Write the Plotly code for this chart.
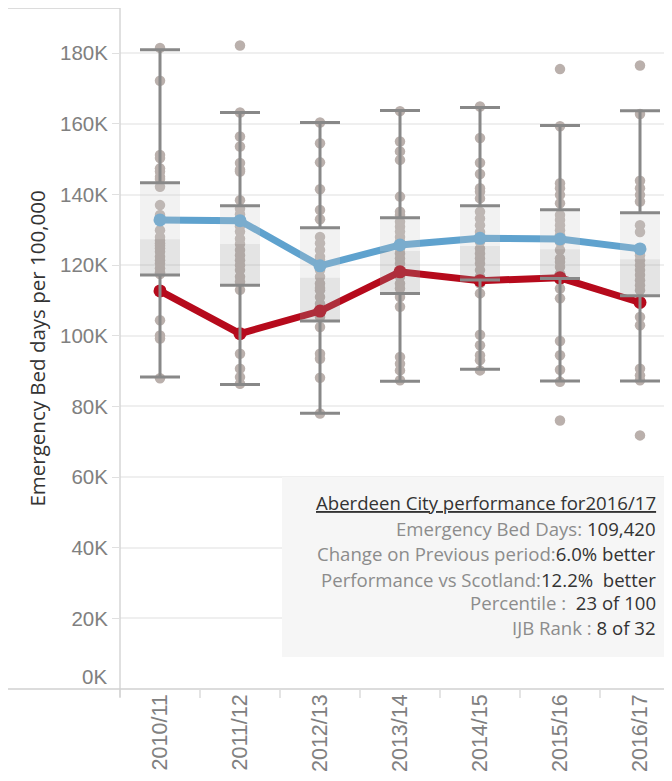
import plotly.graph_objects as go

years = ["2010/11", "2011/12", "2012/13", "2013/14", "2014/15", "2015/16", "2016/17"]

scotland = [132800, 132600, 119800, 125700, 127600, 127400, 124600]
aberdeen = [112700, 100600, 107000, 118100, 115600, 116400, 109420]

upper_whisker = [181000, 163200, 160400, 163800, 164600, 159500, 163700]
q3 = [143300, 136800, 130600, 133400, 136800, 135700, 134800]
median = [127300, 126000, 116400, 124000, 125400, 124500, 121700]
q1 = [117200, 114300, 104200, 112000, 115800, 116200, 111300]
lower_whisker = [88300, 86200, 78100, 87100, 90500, 87200, 87200]

# IJB values (thousands) per year
ijb_2010 = [181.5, 172.2, 151.2, 150.3, 147.4, 146.5, 145.0, 144.4, 142.2, 137.0, 134.2, 132.8,
            129.9, 128.0, 127.0, 126.2, 125.5, 124.8, 123.8, 122.4, 121.4, 120.5, 119.1, 118.0,
            117.5, 112.7, 104.4, 100.1, 99.2, 88.0]
ijb_2011 = [182.2, 163.2, 156.4, 153.6, 148.9, 147.0, 146.5, 138.4, 136.0, 134.4, 132.6, 131.0,
            129.5, 127.5, 126.0, 124.3, 122.8, 121.4, 120.0, 118.6, 116.7, 115.3, 113.0, 100.6,
            94.9, 90.7, 88.3, 86.4]
ijb_2012 = [160.4, 154.5, 149.1, 141.5, 135.6, 133.0, 128.0, 126.2, 124.3, 122.4, 121.5, 120.5,
            118.6, 116.7, 114.8, 113.5, 112.9, 111.0, 109.1, 107.0, 105.3, 102.5, 94.9, 93.5,
            88.1, 78.0]
ijb_2013 = [163.6, 155.0, 152.2, 149.8, 139.4, 135.1, 134.2, 132.3, 130.9, 129.5, 128.0, 126.6,
            124.7, 123.3, 121.9, 120.5, 118.1, 116.7, 114.8, 113.4, 111.0, 108.2, 94.0, 92.1,
            90.2, 87.4]
ijb_2014 = [164.9, 156.0, 149.0, 145.8, 141.8, 140.8, 138.9, 135.1, 133.2, 131.3, 129.4, 128.0,
            126.6, 124.7, 123.3, 121.9, 120.5, 118.6, 116.7, 115.6, 114.8, 112.0, 100.3, 97.3,
            94.5, 93.1, 90.2]
ijb_2015 = [175.5, 159.3, 143.2, 141.8, 139.9, 137.5, 134.2, 132.8, 131.3, 129.9, 128.5, 126.6,
            124.3, 121.9, 120.9, 119.5, 117.6, 116.4, 115.7, 113.4, 110.6, 98.5, 94.5, 90.4,
            87.0, 76.0]
ijb_2016 = [176.5, 162.8, 143.9, 141.8, 139.9, 138.0, 131.3, 129.4, 122.8, 121.4, 120.0, 118.6,
            117.2, 115.7, 114.3, 112.9, 109.42, 105.3, 103.0, 90.7, 88.8, 87.4, 71.8]
ijb_values = [ijb_2010, ijb_2011, ijb_2012, ijb_2013, ijb_2014, ijb_2015, ijb_2016]

y_ticks = [20000, 40000, 60000, 80000, 100000, 120000, 140000, 160000, 180000]
y_ticktext = ["20K", "40K", "60K", "80K", "100K", "120K", "140K", "160K", "180K"]

panel_title = "Aberdeen City performance for2016/17"
panel_lines = [
    ("Emergency Bed Days: ", "109,420"),
    ("Change on Previous period:", "6.0% better"),
    ("Performance vs Scotland:", "12.2%  better"),
    ("Percentile : ", " 23 of 100"),
    ("IJB Rank : ", "8 of 32"),
]

idx = list(range(len(years)))

fig = go.Figure()

# IJB dots
dx, dy = [], []
for i, vals in enumerate(ijb_values):
    for v in vals:
        dx.append(i)
        dy.append(v * 1000)
fig.add_trace(go.Scatter(x=dx, y=dy, mode="markers",
                         marker=dict(size=10.5, color="#bab0ac", line=dict(width=0)),
                         hoverinfo="skip", zorder=0))

# lines
fig.add_trace(go.Scatter(x=idx, y=scotland, mode="lines+markers",
                         line=dict(color="#5fa2ce", width=7),
                         marker=dict(size=13, color="#5fa2ce"), zorder=1))
fig.add_trace(go.Scatter(x=idx, y=aberdeen, mode="lines+markers",
                         line=dict(color="#b60a1c", width=7),
                         marker=dict(size=13, color="#b60a1c"), zorder=1))

# boxes (semi-transparent, above lines)
fig.add_trace(go.Bar(x=idx, y=[m - a for m, a in zip(median, q1)], base=q1, width=0.5,
                     marker=dict(color="rgba(150,150,150,0.26)", line=dict(width=0)), zorder=2))
fig.add_trace(go.Bar(x=idx, y=[b - m for b, m in zip(q3, median)], base=median, width=0.5,
                     marker=dict(color="rgba(205,205,205,0.25)", line=dict(width=0)), zorder=2))

# whiskers
fig.add_trace(go.Scatter(x=idx, y=q3, mode="markers", marker=dict(size=1, color="rgba(0,0,0,0)"),
                         error_y=dict(type="data", array=[u - b for u, b in zip(upper_whisker, q3)],
                                      arrayminus=[0] * len(idx), color="#888888", thickness=3, width=20),
                         zorder=3))
fig.add_trace(go.Scatter(x=idx, y=q1, mode="markers", marker=dict(size=1, color="rgba(0,0,0,0)"),
                         error_y=dict(type="data", array=[0] * len(idx),
                                      arrayminus=[a - l for a, l in zip(q1, lower_whisker)],
                                      color="#888888", thickness=3, width=20),
                         zorder=3))

ytick_font = dict(family="Liberation Sans", size=20.5, color="#808080")
xtick_font = dict(family="Liberation Sans", size=21.5, color="#808080")

fig.update_layout(
    width=672, height=773,
    margin=dict(l=112, r=8, t=0, b=92),
    paper_bgcolor="white", plot_bgcolor="white",
    showlegend=False, barmode="overlay",
    xaxis=dict(range=[-0.5, 6.4], tickvals=idx, ticktext=years, tickangle=-90,
               tickfont=xtick_font, ticks="", showgrid=False, zeroline=False, showline=False,
               minor=dict(tickmode="array", tickvals=[-0.5, 0.5, 1.5, 2.5, 3.5, 4.5, 5.5],
                          ticks="outside", ticklen=8, tickcolor="#e4e4e4", tickwidth=1.5, showgrid=False)),
    yaxis=dict(range=[0, 192800], tickvals=y_ticks, ticktext=y_ticktext, tickfont=ytick_font,
               ticks="outside", ticklen=7, tickcolor="#e0e0e0", tickwidth=1,
               showgrid=True, gridcolor="#efefef", gridwidth=1.5, zeroline=False, showline=False),
)

shapes = [
    dict(type="line", xref="paper", yref="paper", x0=-0.2029, x1=0, y0=1, y1=1,
         line=dict(color="#d0d0d0", width=1.5)),
    dict(type="line", xref="paper", yref="paper", x0=0, x1=0, y0=1, y1=-0.0117,
         line=dict(color="#d6d6d6", width=1.5)),
    dict(type="line", xref="paper", yref="paper", x0=-0.2029, x1=1, y0=0, y1=0,
         line=dict(color="#d0d0d0", width=1.5)),
    dict(type="rect", xref="paper", yref="paper", x0=0.2935, x1=1, y0=0.047, y1=0.3113,
         fillcolor="#f6f6f6", line=dict(width=0), layer="above"),
]
fig.update_layout(shapes=shapes)

annotations = [
    dict(text="Emergency Bed days per 100,000", xref="paper", yref="paper", x=-0.152, y=0.5,
         textangle=-90, showarrow=False, xanchor="center", yanchor="middle",
         font=dict(family="Open Sans", size=20.5, color="#333333")),
    dict(text="0K", xref="paper", yref="y", x=0, y=0, xanchor="right", yanchor="middle",
         xshift=-11, yshift=13, showarrow=False, font=ytick_font),
]
line_y = [0.2736, 0.2364, 0.1997, 0.1615, 0.1263, 0.0896]
panel_font = dict(family="Open Sans", size=18.6, color="#333333")
annotations.append(dict(text="<u>" + panel_title + "</u>", xref="paper", yref="paper",
                        x=0.9746, y=line_y[0], xanchor="right", yanchor="middle", showarrow=False,
                        font=panel_font))
for (lab, val), yy in zip(panel_lines, line_y[1:]):
    annotations.append(dict(text=f"<span style='color:#8c8c8c'>{lab}</span><span style='color:#333333'>{val}</span>",
                            xref="paper", yref="paper", x=0.9746, y=yy, xanchor="right", yanchor="middle",
                            showarrow=False, font=panel_font))
fig.update_layout(annotations=annotations)

fig.write_html("out.html")
